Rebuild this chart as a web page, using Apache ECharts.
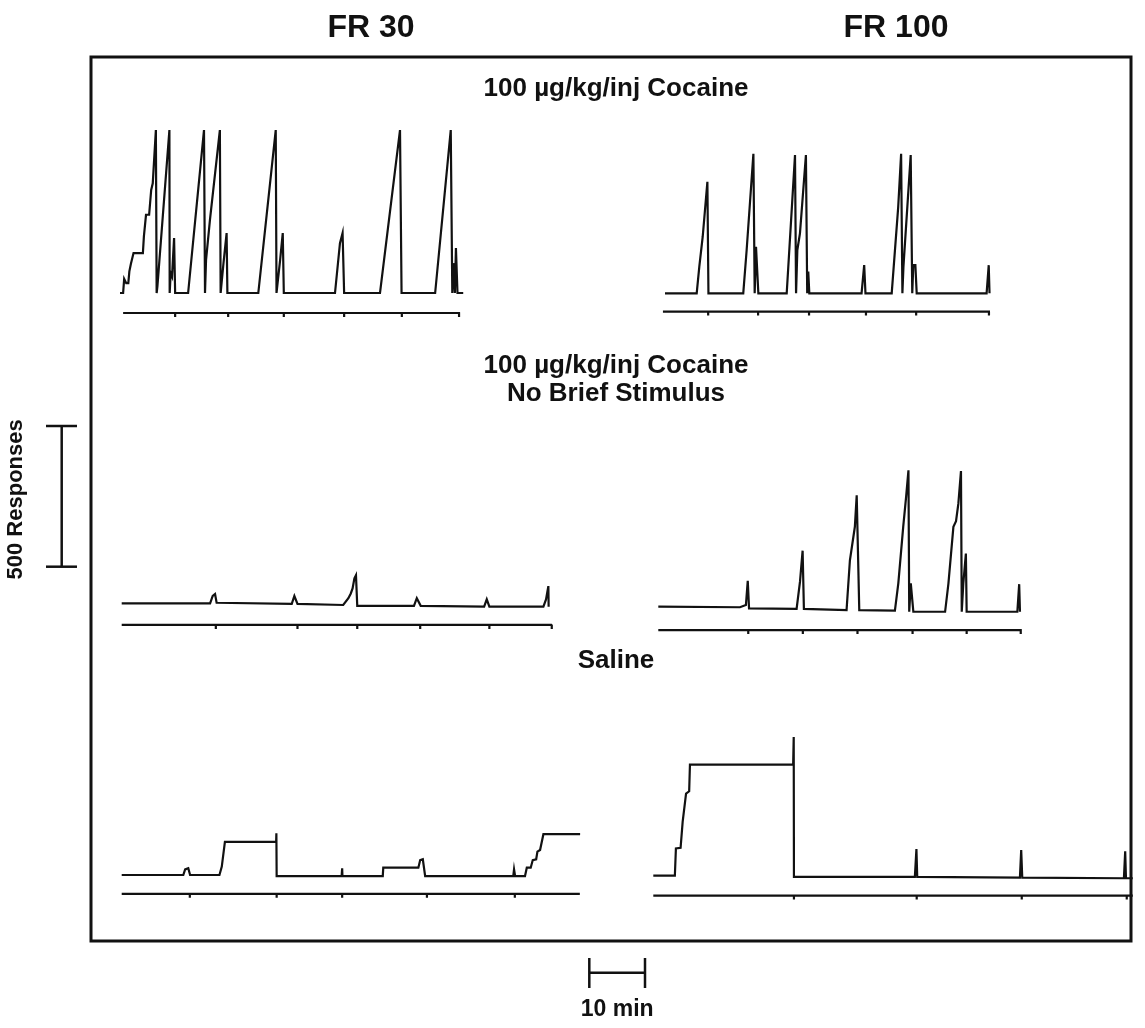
<!DOCTYPE html>
<html>
<head>
<meta charset="utf-8">
<script src="https://cdn.jsdelivr.net/npm/echarts@6/dist/echarts.min.js"></script>
<style>
html,body{margin:0;padding:0;background:#fff;}
#chart{width:1145px;height:1028px;}
</style>
</head>
<body>
<div id="chart"></div>
<script>
// ---- Data: cumulative records, [minutes, cumulative responses] ----
const fr30Cocaine = [[0,0],[0.56,0],[0.75,50],[1.12,35],[1.49,35],[1.68,77],[1.96,104],[2.24,106],[2.43,142],[4.11,142],[4.29,201],[4.67,278],[5.23,278],[5.6,366],[5.88,390],[6.44,579],[6.58,0],[6.72,24],[8.87,579],[8.92,0],[9.1,71],[9.34,59],[9.71,195],[9.9,0],[12.23,0],[15.08,579],[15.26,0],[15.45,118],[16.15,260],[17.93,579],[18.07,0],[18.58,106],[19.14,213],[19.28,0],[24.83,0],[27.96,579],[28.1,0],[28.75,118],[29.22,213],[29.41,0],[38.6,0],[39.49,177],[39.96,213],[40.24,0],[46.68,0],[50.27,579],[50.55,0],[56.58,0],[59.38,579],[59.66,0],[59.84,106],[60.12,0],[60.31,160],[60.59,0],[61.62,0]];
const fr100Cocaine = [[0,0],[5.69,0],[6.16,95],[6.77,201],[7.61,396],[7.8,0],[14.05,0],[14.66,154],[15.87,496],[16.1,0],[16.34,165],[16.57,165],[16.76,0],[21.85,0],[23.34,491],[23.53,0],[23.76,154],[24.23,213],[25.3,491],[25.53,0],[25.72,77],[25.91,0],[35.29,0],[35.76,100],[35.99,0],[40.7,0],[41.87,307],[42.39,496],[42.62,0],[42.81,95],[44.11,491],[44.39,0],[44.58,100],[44.95,100],[45.19,0],[57.74,0],[58.12,100],[58.26,0]];
const fr30NoStim = [[0,0],[15.87,0],[16.34,26],[16.76,33],[17.04,2],[30.53,-2],[31.0,26],[31.32,30],[31.56,-2],[39.77,-6],[40.7,18],[41.13,35],[41.45,53],[41.78,89],[42.06,100],[42.29,-9],[52.47,-9],[52.98,18],[53.31,21],[53.68,-9],[65.07,-12],[65.54,14],[65.82,21],[66.01,-12],[75.71,-12],[76.18,14],[76.6,61],[76.65,-12]];
const fr100NoStim = [[0,0],[14.66,-2],[15.73,6],[16.06,92],[16.29,-6],[24.83,-8],[25.44,89],[25.91,199],[26.14,-8],[33.8,-12],[34.4,165],[35.29,284],[35.62,396],[35.9,390],[36.08,-12],[42.48,-14],[43.09,83],[43.97,284],[44.49,390],[44.91,485],[45.05,-18],[45.33,83],[45.61,83],[45.79,-18],[51.49,-18],[52.09,83],[52.98,284],[53.45,304],[53.87,366],[54.34,482],[54.48,-18],[54.76,83],[55.22,189],[55.36,-18],[64.46,-18],[64.79,80],[64.93,-18]];
const fr30Saline = [[0,0],[11.06,0],[11.39,20],[11.95,24],[12.28,0],[17.55,0],[17.97,30],[18.53,118],[27.73,118],[27.77,148],[27.82,-4],[39.49,-4],[39.58,24],[39.63,-4],[46.87,-4],[46.96,26],[53.26,26],[53.59,53],[54.06,56],[54.48,-4],[70.3,-4],[70.44,20],[70.63,-4],[72.4,-4],[72.73,26],[73.43,26],[73.8,53],[74.41,56],[74.64,83],[75.11,89],[75.71,145],[82.3,145]];
const fr100Saline = [[0,0],[3.87,0],[4.06,97],[4.9,99],[5.27,191],[5.55,197],[5.88,292],[6.44,300],[6.58,395],[25.11,395],[25.21,493],[25.25,-4],[46.96,-4],[47.24,95],[47.38,-4],[65.82,-7],[66.05,91],[66.24,-7],[84.49,-9],[84.72,87],[84.86,-9],[86.08,-9]];

// ---- Event (injection) pen: start, end (min), level (responses offset), tick times (min) ----
const ev1Ticks = [9.9,19.42,29.41,40.24,50.6,60.87];
const ev2Ticks = [7.75,16.71,25.86,36.08,45.09,58.16];
const ev3Ticks = [16.9,31.56,42.29,53.59,66.01,77.21];
const ev4Ticks = [16.15,25.95,35.76,45.65,55.36,65.07];
const ev5Ticks = [12.23,27.82,39.58,54.8,70.58];
const ev6Ticks = [25.25,47.29,66.15,85.0];
const evSpan = [[0.56,61.06],[-0.37,58.35],[0,77.21],[0,65.26],[0,82.25],[0,86.08]];
const evLevel = [-71,-65,-77,-83,-67,-71];
const TICK_LEN = 14; // responses

// ---- Text ----
const columnTitles = ['FR 30','FR 100'];
const rowTitles = [['100 µg/kg/inj Cocaine'],['100 µg/kg/inj Cocaine','No Brief Stimulus'],['Saline']];
const scaleResp = 500, scaleMin = 10;
const respLabel = '500 Responses', minLabel = '10 min';

// ---- Layout ----
const PX_PER_MIN = 5.57, PX_PER_RESP = 0.2814;
const X_MIN = -2, X_MAX = 90, Y_MIN = -120, Y_MAX = 620;
const origins = [[120,293],[665,293.3],[121.7,603.3],[658.3,606.7],[121.7,875],[653.3,875.7]];
const records = [fr30Cocaine, fr100Cocaine, fr30NoStim, fr100NoStim, fr30Saline, fr100Saline];
const ticksAll = [ev1Ticks, ev2Ticks, ev3Ticks, ev4Ticks, ev5Ticks, ev6Ticks];

function eventPath(i){
  const [s,e] = evSpan[i], L = evLevel[i];
  const pts = [[s,L]];
  ticksAll[i].slice().sort((a,b)=>a-b).forEach(t=>{
    pts.push([t,L],[t,L-TICK_LEN],[t,L]);
  });
  pts.push([e,L]);
  return pts;
}

const grids = [], xAxes = [], yAxes = [], series = [];
origins.forEach(([x0,base],i)=>{
  grids.push({
    left: x0 + X_MIN*PX_PER_MIN,
    top: base - Y_MAX*PX_PER_RESP,
    width: (X_MAX-X_MIN)*PX_PER_MIN,
    height: (Y_MAX-Y_MIN)*PX_PER_RESP,
    containLabel:false, outerBoundsMode:'none', show:false
  });
  xAxes.push({type:'value', gridIndex:i, min:X_MIN, max:X_MAX, show:false});
  yAxes.push({type:'value', gridIndex:i, min:Y_MIN, max:Y_MAX, show:false});
  series.push({type:'line', xAxisIndex:i, yAxisIndex:i, data:records[i], showSymbol:false, symbol:'none', lineStyle:{color:'#111', width:2.2, join:'miter'}, silent:true, animation:false, clip:false});
  series.push({type:'line', xAxisIndex:i, yAxisIndex:i, data:eventPath(i), showSymbol:false, symbol:'none', lineStyle:{color:'#111', width:2.2}, silent:true, animation:false, clip:false});
});

const FONT = '"Liberation Sans", Arial, Helvetica, sans-serif';
const black = '#111';
const graphic = [];
// frame
graphic.push({type:'rect', shape:{x:91,y:57,width:1040,height:884}, style:{fill:'none', stroke:black, lineWidth:3}, silent:true});
// column titles
[[371,columnTitles[0]],[896,columnTitles[1]]].forEach(([x,t])=>{
  graphic.push({type:'text', x:x, y:28, style:{text:t, font:'bold 32px '+FONT, fill:black, textAlign:'center', textVerticalAlign:'middle'}});
});
// row titles
const rowFont = 'bold 26px '+FONT;
graphic.push({type:'text', x:616, y:89, style:{text:rowTitles[0][0], font:rowFont, fill:black, textAlign:'center', textVerticalAlign:'middle'}});
graphic.push({type:'text', x:616, y:366, style:{text:rowTitles[1][0], font:rowFont, fill:black, textAlign:'center', textVerticalAlign:'middle'}});
graphic.push({type:'text', x:616, y:394, style:{text:rowTitles[1][1], font:rowFont, fill:black, textAlign:'center', textVerticalAlign:'middle'}});
graphic.push({type:'text', x:616, y:661, style:{text:rowTitles[2][0], font:rowFont, fill:black, textAlign:'center', textVerticalAlign:'middle'}});
// vertical scale bar (500 responses)
const vbX = 61.7, vbTop = 426, vbBot = vbTop + scaleResp*PX_PER_RESP;
graphic.push({type:'line', shape:{x1:vbX,y1:vbTop,x2:vbX,y2:vbBot}, style:{stroke:black, lineWidth:2.5}, silent:true});
graphic.push({type:'line', shape:{x1:46,y1:vbTop,x2:77,y2:vbTop}, style:{stroke:black, lineWidth:2.5}, silent:true});
graphic.push({type:'line', shape:{x1:46,y1:vbBot,x2:77,y2:vbBot}, style:{stroke:black, lineWidth:2.5}, silent:true});
graphic.push({type:'text', x:16, y:(vbTop+vbBot)/2+3, rotation:Math.PI/2, style:{text:respLabel, font:'bold 22px '+FONT, fill:black, textAlign:'center', textVerticalAlign:'middle'}});
// horizontal scale bar (10 min)
const hbY = 972.7, hbL = 589.3, hbR = hbL + scaleMin*PX_PER_MIN;
graphic.push({type:'line', shape:{x1:hbL,y1:hbY,x2:hbR,y2:hbY}, style:{stroke:black, lineWidth:2.5}, silent:true});
graphic.push({type:'line', shape:{x1:hbL,y1:958,x2:hbL,y2:988}, style:{stroke:black, lineWidth:2.5}, silent:true});
graphic.push({type:'line', shape:{x1:hbR,y1:958,x2:hbR,y2:988}, style:{stroke:black, lineWidth:2.5}, silent:true});
graphic.push({type:'text', x:(hbL+hbR)/2, y:1010, style:{text:minLabel, font:'bold 23px '+FONT, fill:black, textAlign:'center', textVerticalAlign:'middle'}});

const chart = echarts.init(document.getElementById('chart'), null, {renderer:'canvas'});
chart.setOption({
  animation:false,
  backgroundColor:'#fff',
  grid:grids, xAxis:xAxes, yAxis:yAxes, series:series,
  graphic:graphic
});
</script>
</body>
</html>
